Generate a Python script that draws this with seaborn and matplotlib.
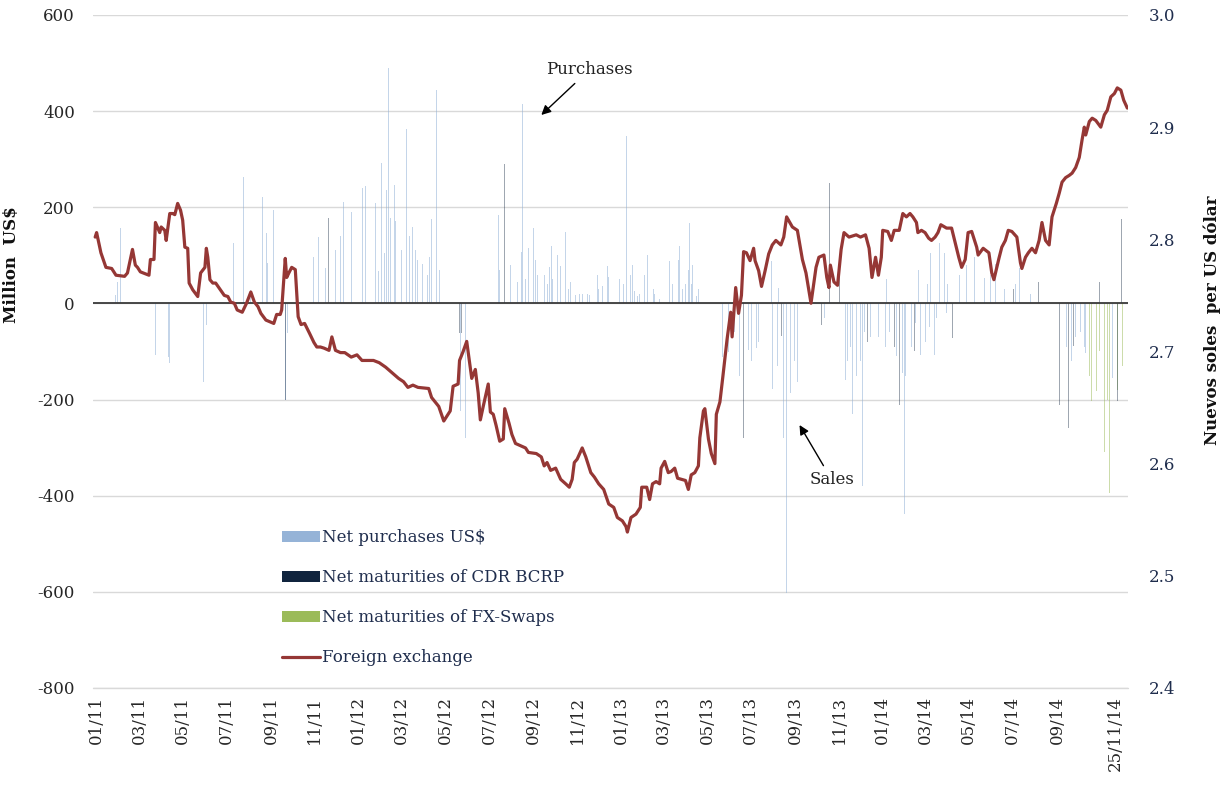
import pandas as pd
import matplotlib
matplotlib.use("Agg")
import matplotlib.pyplot as plt
from matplotlib.patches import Patch
from matplotlib.lines import Line2D
import seaborn as sns

# estilo
sns.set_theme(style="white")
plt.rcParams["font.family"] = ["DejaVu Serif"]
plt.rcParams["axes.unicode_minus"] = False

# tipo de cambio (S/. por US$)
fx_dates = [
    "2011-01-03", "2011-01-05", "2011-01-11", "2011-01-18", "2011-01-26", "2011-02-01", "2011-02-13",
    "2011-02-17", "2011-02-24", "2011-02-28", "2011-03-03", "2011-03-07", "2011-03-19", "2011-03-21",
    "2011-03-26", "2011-03-28", "2011-04-03", "2011-04-05", "2011-04-10", "2011-04-12", "2011-04-17",
    "2011-04-21", "2011-04-24", "2011-04-28", "2011-05-02", "2011-05-05", "2011-05-08", "2011-05-12",
    "2011-05-14", "2011-05-19", "2011-05-26", "2011-05-30", "2011-06-05", "2011-06-07", "2011-06-09",
    "2011-06-12", "2011-06-16", "2011-06-20", "2011-07-02", "2011-07-07", "2011-07-11", "2011-07-16",
    "2011-07-20", "2011-07-27", "2011-08-02", "2011-08-08", "2011-08-13", "2011-08-18", "2011-08-22",
    "2011-08-29", "2011-09-09", "2011-09-13", "2011-09-18", "2011-09-20", "2011-09-25", "2011-09-27",
    "2011-09-30", "2011-10-04", "2011-10-09", "2011-10-13", "2011-10-17", "2011-10-22", "2011-10-29",
    "2011-11-04", "2011-11-08", "2011-11-13", "2011-11-18", "2011-11-25", "2011-11-29", "2011-12-04",
    "2011-12-11", "2011-12-17", "2011-12-26", "2012-01-03", "2012-01-10", "2012-01-19", "2012-01-26",
    "2012-02-03", "2012-02-12", "2012-02-21", "2012-03-01", "2012-03-08", "2012-03-14", "2012-03-21",
    "2012-03-28", "2012-04-12", "2012-04-16", "2012-04-26", "2012-05-03", "2012-05-12", "2012-05-16",
    "2012-05-23", "2012-05-25", "2012-05-30", "2012-06-04", "2012-06-11", "2012-06-16", "2012-06-20",
    "2012-06-23", "2012-06-27", "2012-07-04", "2012-07-07", "2012-07-11", "2012-07-15", "2012-07-20",
    "2012-07-25", "2012-07-27", "2012-08-02", "2012-08-06", "2012-08-11", "2012-08-18", "2012-08-25",
    "2012-08-29", "2012-09-09", "2012-09-16", "2012-09-20", "2012-09-24", "2012-09-29", "2012-10-06",
    "2012-10-13", "2012-10-20", "2012-10-25", "2012-10-29", "2012-11-01", "2012-11-05", "2012-11-12",
    "2012-11-17", "2012-11-24", "2012-11-29", "2012-12-05", "2012-12-12", "2012-12-19", "2012-12-26",
    "2012-12-31", "2013-01-07", "2013-01-12", "2013-01-14", "2013-01-19", "2013-01-26", "2013-02-01",
    "2013-02-03", "2013-02-10", "2013-02-14", "2013-02-18", "2013-02-23", "2013-02-28", "2013-03-02",
    "2013-03-07", "2013-03-12", "2013-03-16", "2013-03-21", "2013-03-25", "2013-04-05", "2013-04-09",
    "2013-04-13", "2013-04-18", "2013-04-23", "2013-04-25", "2013-04-30", "2013-05-02", "2013-05-07",
    "2013-05-11", "2013-05-16", "2013-05-18", "2013-05-23", "2013-05-27", "2013-06-02", "2013-06-07",
    "2013-06-09", "2013-06-14", "2013-06-18", "2013-06-22", "2013-06-25", "2013-06-29", "2013-07-04",
    "2013-07-09", "2013-07-11", "2013-07-16", "2013-07-20", "2013-07-25", "2013-07-30", "2013-08-04",
    "2013-08-09", "2013-08-16", "2013-08-20", "2013-08-24", "2013-09-01", "2013-09-08", "2013-09-15",
    "2013-09-20", "2013-09-27", "2013-10-04", "2013-10-08", "2013-10-15", "2013-10-19", "2013-10-22",
    "2013-10-24", "2013-10-29", "2013-11-03", "2013-11-08", "2013-11-12", "2013-11-19", "2013-11-29",
    "2013-12-05", "2013-12-12", "2013-12-17", "2013-12-21", "2013-12-26", "2013-12-30", "2014-01-03",
    "2014-01-05", "2014-01-12", "2014-01-17", "2014-01-21", "2014-01-28", "2014-02-02", "2014-02-07",
    "2014-02-12", "2014-02-16", "2014-02-21", "2014-02-23", "2014-02-28", "2014-03-05", "2014-03-10",
    "2014-03-14", "2014-03-19", "2014-03-23", "2014-03-27", "2014-04-04", "2014-04-11", "2014-04-16",
    "2014-04-21", "2014-04-25", "2014-04-30", "2014-05-04", "2014-05-09", "2014-05-16", "2014-05-18",
    "2014-05-25", "2014-06-02", "2014-06-06", "2014-06-09", "2014-06-16", "2014-06-20", "2014-06-25",
    "2014-06-29", "2014-07-04", "2014-07-11", "2014-07-16", "2014-07-18", "2014-07-23", "2014-07-27",
    "2014-08-01", "2014-08-06", "2014-08-11", "2014-08-15", "2014-08-20", "2014-08-25", "2014-08-29",
    "2014-09-04", "2014-09-08", "2014-09-12", "2014-09-17", "2014-09-22", "2014-09-26", "2014-10-01",
    "2014-10-06", "2014-10-10", "2014-10-13", "2014-10-15", "2014-10-20", "2014-10-24", "2014-10-29",
    "2014-11-05", "2014-11-10", "2014-11-14", "2014-11-19", "2014-11-24", "2014-11-28", "2014-12-03",
    "2014-12-07", "2014-12-12",
]
fx_values = [
    2.802, 2.806, 2.788, 2.775, 2.774, 2.768, 2.767,
    2.770, 2.791, 2.777, 2.775, 2.771, 2.768, 2.782,
    2.782, 2.815, 2.806, 2.811, 2.808, 2.799, 2.823,
    2.823, 2.822, 2.832, 2.826, 2.817, 2.793, 2.792,
    2.761, 2.755, 2.749, 2.770, 2.775, 2.792, 2.784,
    2.764, 2.761, 2.761, 2.750, 2.749, 2.744, 2.743,
    2.737, 2.735, 2.743, 2.753, 2.744, 2.740, 2.734,
    2.728, 2.725, 2.733, 2.733, 2.737, 2.783, 2.766,
    2.770, 2.775, 2.773, 2.731, 2.724, 2.725, 2.716,
    2.708, 2.704, 2.704, 2.703, 2.701, 2.713, 2.701,
    2.699, 2.699, 2.695, 2.697, 2.692, 2.692, 2.692,
    2.690, 2.686, 2.681, 2.676, 2.673, 2.668, 2.670,
    2.668, 2.667, 2.659, 2.651, 2.638, 2.647, 2.669,
    2.671, 2.692, 2.700, 2.709, 2.676, 2.684, 2.663,
    2.639, 2.651, 2.671, 2.646, 2.644, 2.634, 2.620,
    2.622, 2.649, 2.636, 2.626, 2.618, 2.616, 2.614,
    2.610, 2.609, 2.606, 2.598, 2.601, 2.594, 2.596,
    2.586, 2.582, 2.579, 2.586, 2.601, 2.604, 2.614,
    2.606, 2.592, 2.588, 2.582, 2.577, 2.564, 2.561,
    2.552, 2.549, 2.544, 2.539, 2.552, 2.555, 2.561,
    2.579, 2.579, 2.568, 2.582, 2.584, 2.582, 2.596,
    2.602, 2.592, 2.593, 2.596, 2.587, 2.585, 2.577,
    2.590, 2.592, 2.598, 2.623, 2.647, 2.649, 2.622,
    2.609, 2.600, 2.644, 2.655, 2.677, 2.711, 2.735,
    2.713, 2.757, 2.734, 2.750, 2.789, 2.788, 2.781,
    2.792, 2.781, 2.772, 2.758, 2.772, 2.787, 2.795,
    2.799, 2.795, 2.802, 2.820, 2.811, 2.808, 2.782,
    2.770, 2.743, 2.775, 2.784, 2.786, 2.766, 2.757,
    2.777, 2.762, 2.759, 2.791, 2.806, 2.802, 2.804,
    2.802, 2.804, 2.792, 2.766, 2.784, 2.768, 2.784,
    2.808, 2.807, 2.799, 2.808, 2.808, 2.823, 2.820,
    2.823, 2.820, 2.815, 2.806, 2.808, 2.806, 2.801,
    2.799, 2.802, 2.806, 2.813, 2.810, 2.810, 2.797,
    2.784, 2.775, 2.782, 2.806, 2.807, 2.793, 2.786,
    2.792, 2.788, 2.770, 2.764, 2.783, 2.793, 2.799,
    2.808, 2.807, 2.802, 2.779, 2.774, 2.784, 2.788,
    2.792, 2.788, 2.799, 2.815, 2.799, 2.795, 2.820,
    2.832, 2.841, 2.851, 2.855, 2.857, 2.859, 2.864,
    2.873, 2.889, 2.900, 2.893, 2.905, 2.908, 2.906,
    2.900, 2.911, 2.915, 2.927, 2.930, 2.935, 2.933,
    2.924, 2.917,
]

# compras netas US$ (millones)
purchase_dates = [
    "2011-01-31", "2011-02-03", "2011-02-07", "2011-02-11", "2011-03-28", "2011-04-15", "2011-04-17",
    "2011-04-27", "2011-06-03", "2011-06-07", "2011-06-30", "2011-07-15", "2011-07-17", "2011-07-21",
    "2011-07-29", "2011-08-08", "2011-08-24", "2011-08-30", "2011-09-09", "2011-09-25", "2011-09-28",
    "2011-10-03", "2011-11-03", "2011-11-10", "2011-11-22", "2011-12-06", "2011-12-15", "2011-12-26",
    "2012-01-06", "2012-01-11", "2012-01-15", "2012-01-24", "2012-01-29", "2012-02-06", "2012-02-13",
    "2012-02-16", "2012-02-19", "2012-02-24", "2012-02-28", "2012-03-05", "2012-03-10", "2012-03-12",
    "2012-03-17", "2012-03-20", "2012-03-27", "2012-04-04", "2012-04-10", "2012-04-15", "2012-04-16",
    "2012-04-23", "2012-04-27", "2012-05-02", "2012-05-06", "2012-05-26", "2012-06-02", "2012-07-18",
    "2012-07-22", "2012-07-29", "2012-08-04", "2012-08-09", "2012-08-19", "2012-08-21", "2012-08-25",
    "2012-08-29", "2012-09-05", "2012-09-11", "2012-09-14", "2012-09-20", "2012-09-25", "2012-09-30",
    "2012-10-05", "2012-10-13", "2012-10-16", "2012-10-20", "2012-10-24", "2012-10-29", "2012-11-03",
    "2012-11-08", "2012-11-12", "2012-11-16", "2012-11-22", "2012-11-27", "2012-12-01", "2012-12-05",
    "2012-12-10", "2012-12-14", "2012-12-17", "2012-12-21", "2012-12-25", "2012-12-29", "2013-01-05",
    "2013-01-09", "2013-01-13", "2013-01-15", "2013-01-18", "2013-01-24", "2013-01-28", "2013-02-05",
    "2013-02-09", "2013-02-11", "2013-02-16", "2013-02-21", "2013-02-28", "2013-03-06", "2013-03-14",
    "2013-03-16", "2013-03-20", "2013-03-24", "2013-03-28", "2013-04-01", "2013-04-05", "2013-04-11",
    "2013-04-13", "2013-04-17", "2013-04-20", "2013-05-27", "2013-06-04", "2013-06-30", "2013-07-02",
    "2013-07-11", "2013-07-13", "2013-07-29", "2013-08-03", "2013-08-04", "2013-08-08", "2013-08-13",
    "2013-08-15", "2013-08-20", "2013-08-24", "2013-08-29", "2013-09-04", "2013-09-08", "2013-11-12",
    "2013-11-17", "2013-11-24", "2013-11-29", "2013-12-03", "2013-12-08", "2013-12-11", "2013-12-14",
    "2013-12-25", "2013-12-30", "2014-02-02", "2014-02-04", "2014-02-09", "2014-02-12", "2014-02-27",
    "2014-03-02", "2014-03-08", "2014-03-13", "2014-03-18", "2014-03-25", "2014-04-01", "2014-04-09",
    "2014-04-27", "2014-05-13", "2014-05-18", "2014-05-27", "2014-06-11", "2014-07-15", "2014-07-25",
    "2014-08-01", "2014-10-03", "2014-10-10", "2014-10-15", "2014-11-21",
    # barras adicionales de las zonas densas
    "2011-08-31", "2011-11-20", "2011-12-04", "2011-12-11", "2011-12-20", "2012-02-02", "2012-02-10",
    "2012-02-26", "2012-03-03", "2012-03-16", "2012-03-25", "2012-04-03", "2012-04-13", "2012-07-20",
    "2012-08-14", "2012-08-31", "2012-09-08", "2012-09-17", "2012-09-27", "2012-10-02", "2012-10-09",
    "2012-10-27", "2012-11-06", "2012-11-19", "2012-12-03", "2012-12-19", "2013-01-03", "2013-01-21",
    "2013-01-31", "2013-02-07", "2013-02-13", "2013-02-19", "2013-03-10", "2013-03-18", "2013-03-26",
    "2013-04-03", "2013-04-09", "2013-04-15", "2013-04-23", "2013-06-12", "2013-06-19", "2013-06-27",
    "2013-07-06", "2013-07-16", "2013-07-22", "2013-08-01", "2013-08-11", "2013-08-26", "2013-09-02",
    "2013-10-16", "2013-11-14", "2013-11-21", "2013-12-05", "2013-12-19", "2014-01-09", "2014-01-14",
    "2014-01-24", "2014-02-06", "2014-02-14", "2014-02-20", "2014-03-06", "2014-03-11", "2014-03-21",
    "2014-04-04", "2014-09-05", "2014-09-18", "2014-09-25", "2014-10-01", "2014-10-08", "2014-10-13",
    "2014-01-10", "2014-01-25", "2014-02-24", "2014-04-05", "2014-04-22", "2014-05-02", "2014-05-22",
    "2014-06-04", "2014-06-24", "2014-07-09", "2014-07-30",
]
purchase_values = [
    18, 45, 157, 128, -107, -111, -124,
    -492, -163, -45, 60, 126, 274, 195,
    264, 28, 222, 146, 195, -200, -62,
    -138, 97, 139, 115, 326, 212, 191,
    149, 241, 244, 145, 209, 292, 236,
    490, 178, 246, 137, 111, 178, 362,
    118, 159, 90, 125, 60, 454, 175,
    445, 70, 189, 50, -223, -279, 184,
    60, 134, 80, 40, 107, 415, 50,
    115, 157, 59, 30, 60, 40, 120,
    60, 78, 40, 149, 30, 68, 18,
    20, 20, 15, 18, 20, 25, 30,
    37, 25, 77, 40, 60, 45, 97,
    40, 348, 299, 60, 25, 15, 178,
    299, 100, 279, 20, 10, 10, 89,
    160, 60, 40, 120, 30, 40, 168,
    40, 97, 15, -111, -101, -167, -97,
    -93, -93, 87, 89, -178, -186, 33,
    -200, -279, -603, -186, -120, -163, -107,
    -119, -230, -150, -90, -379, -60, 89,
    -107, -70, -145, -438, -90, 74, -107,
    -60, 41, 104, -107, 126, 104, 74,
    82, 97, 119, 52, 82, 74, 33,
    70, -175, -423, -104, -156,
    85, 74, 111, 141, 189, 68, 104,
    172, 141, 141, 111, 82, 97, 70,
    45, 60, 90, 35, 75, 50, 100,
    45, 25, 20, 60, 55, 50, 80,
    20, 60, 130, 30, 25, 40, 90,
    40, 70, 80, 30, -60, -150, -50,
    -120, -80, -150, -100, -130, -90, -60,
    -30, -160, -90, -120, -70, -90, -60,
    -110, -150, -90, -40, -80, -50, -30,
    -20, -60, -90, -120, -70, -60, -90,
    50, 60, 70, 40, 60, 80, 40,
    60, 30, 40, 20,
]

# vencimientos netos de CDR BCRP
cdr_dates = [
    "2011-04-27", "2011-06-30", "2011-09-25", "2011-11-24", "2012-05-25", "2012-05-28", "2012-07-27",
    "2012-08-02", "2013-06-25", "2013-08-17", "2013-08-30", "2013-10-12", "2013-10-23", "2013-11-02",
    "2013-11-06", "2013-11-09", "2013-11-12", "2013-11-19", "2013-11-26", "2013-12-15", "2013-12-17",
    "2014-01-07", "2014-01-18", "2014-01-21", "2014-01-28", "2014-02-18", "2014-03-16", "2014-04-12",
    "2014-04-20", "2014-06-16", "2014-07-06", "2014-08-10", "2014-09-08", "2014-09-12", "2014-09-16",
    "2014-09-21", "2014-09-28", "2014-10-07", "2014-11-03", "2014-11-08", "2014-11-11", "2014-11-25",
    "2014-11-28", "2014-12-04", "2014-12-10",
]
cdr_values = [
    -267, 105, -200, 177, -62, -62, 290,
    63, -280, -67, 74, -45, 251, 189,
    80, -204, -107, 60, -130, -80, 40,
    -107, 60, -90, -211, -100, -45, -71,
    60, 50, 30, 45, -211, -107, -150,
    -260, -88, -111, 45, 209, 104, 209,
    -204, 175, 115,
]

# vencimientos netos de FX-Swaps
swap_dates = [
    "2014-10-20", "2014-10-23", "2014-10-30", "2014-11-03", "2014-11-10", "2014-11-14", "2014-11-17",
    "2014-11-19", "2014-11-25", "2014-11-28", "2014-12-05", "2014-12-09",
]
swap_values = [-150, -204, -182, -100, -309, -200, -394, -120, -305, -180, -130, -104]

tick_labels = ["01/11", "03/11", "05/11", "07/11", "09/11", "11/11", "01/12", "03/12",
               "05/12", "07/12", "09/12", "11/12", "01/13", "03/13", "05/13", "07/13",
               "09/13", "11/13", "01/14", "03/14", "05/14", "07/14", "09/14", "25/11/14"]


def label_date(lab):
    p = lab.split("/")
    if len(p) == 3:
        return pd.Timestamp(2000 + int(p[2]), int(p[1]), int(p[0]))
    return pd.Timestamp(2000 + int(p[1]), int(p[0]), 5)


fx = pd.DataFrame({"date": pd.to_datetime(fx_dates), "fx": fx_values})

c_purch = "#95B3D7"
c_cdr = "#10243E"
c_swap = "#9BBB59"
c_fx = "#953735"
c_navy = "#1F2D4D"

fig = plt.figure(figsize=(12.24, 7.85), dpi=100)
ax = fig.add_axes([0.076, 0.1236, 0.8456, 0.8573])
ax2 = ax.twinx()

bw = 0.9
ax.bar(pd.to_datetime(purchase_dates), purchase_values, width=bw, color=c_purch, alpha=0.55, linewidth=0, zorder=2)
ax.bar(pd.to_datetime(swap_dates), swap_values, width=bw, color=c_swap, alpha=0.5, linewidth=0, zorder=2)
ax.bar(pd.to_datetime(cdr_dates), cdr_values, width=bw, color=c_cdr, alpha=0.4, linewidth=0, zorder=3)
ax.axhline(0, color="#3A3A3A", lw=1.3, zorder=4)

sns.lineplot(data=fx, x="date", y="fx", ax=ax2, color=c_fx, lw=2.3, legend=False)

ax.set_ylim(-800, 600)
ax.set_yticks(range(-800, 601, 200))
ax2.set_ylim(2.4, 3.0)
ax2.set_yticks([2.4, 2.5, 2.6, 2.7, 2.8, 2.9, 3.0])
ax2.set_yticklabels(["2.4", "2.5", "2.6", "2.7", "2.8", "2.9", "3.0"])
ax.set_xlim(pd.Timestamp("2010-12-31"), pd.Timestamp("2014-12-13"))

ax.yaxis.grid(True, color="#D9D9D9", lw=1)
ax.xaxis.grid(False)
ax2.grid(False)
ax.set_axisbelow(True)
ax.axhline(-800, color="#D9D9D9", lw=1, clip_on=False, zorder=1)
for a in (ax, ax2):
    for s in a.spines.values():
        s.set_visible(False)

ax.set_xticks([label_date(t) for t in tick_labels])
ax.set_xticklabels(tick_labels, rotation=90)
ax.tick_params(axis="x", length=0, pad=6, labelsize=12, labelcolor="#262626")
ax.tick_params(axis="y", length=0, pad=13, labelsize=12, labelcolor="#262626")
ax2.tick_params(axis="y", length=0, pad=15, labelsize=12, labelcolor=c_navy)
ax2.set_xlabel("")

ax.set_ylabel("Million  US$", fontsize=12, fontweight="bold", color="#111111")
ax.yaxis.set_label_coords(-0.0705, 0.629)
ax2.set_ylabel("Nuevos soles  per US dólar", fontsize=12, fontweight="bold", color="#111111")
ax2.yaxis.set_label_coords(1.0725, 0.547)

# anotaciones
ax.annotate("Purchases", xy=(pd.Timestamp("2012-09-16"), 392), xytext=(pd.Timestamp("2012-11-22"), 486),
            ha="center", va="center", fontsize=12, color="#222222",
            arrowprops=dict(arrowstyle="-|>", color="black", lw=1, mutation_scale=14, shrinkA=2, shrinkB=0))
ax.annotate("Sales", xy=(pd.Timestamp("2013-09-11"), -253), xytext=(pd.Timestamp("2013-10-26"), -367),
            ha="center", va="center", fontsize=12, color="#222222",
            arrowprops=dict(arrowstyle="-|>", color="black", lw=1, mutation_scale=14, shrinkA=2, shrinkB=0))

handles = [
    Patch(facecolor=c_purch, edgecolor="none", label="Net purchases US$"),
    Patch(facecolor=c_cdr, edgecolor="none", label="Net maturities of CDR BCRP"),
    Patch(facecolor=c_swap, edgecolor="none", label="Net maturities of FX-Swaps"),
    Line2D([0], [0], color=c_fx, lw=2.3, label="Foreign exchange"),
]
leg = ax2.legend(handles=handles, loc="upper left", bbox_to_anchor=(0.176, 0.246), frameon=False,
                 fontsize=12, labelspacing=1.38, handlelength=2.3, handleheight=0.6, handletextpad=0.12,
                 borderaxespad=0)
for t in leg.get_texts():
    t.set_color(c_navy)

plt.savefig("out.png", dpi=100)
